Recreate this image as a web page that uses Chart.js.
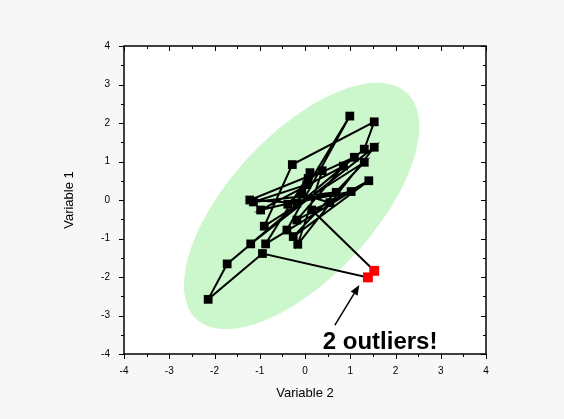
<!DOCTYPE html>
<html>
<head>
<meta charset="utf-8">
<script src="https://cdn.jsdelivr.net/npm/chart.js@4"></script>
<style>
  html, body { margin: 0; padding: 0; background: #f7f7f7; }
  #wrap { width: 564px; height: 419px; }
</style>
</head>
<body>
<div id="wrap"><canvas id="outlierChart" width="564" height="419"></canvas></div>
<script>
// series (in drawing order), the two red points are the outliers
const var2 = [-0.40, 0.99, -0.18, -1.22, 0.38, -0.16, 1.53, -1.20, 1.31, 1.53, -0.28, -0.90, 1.31, -0.26, 1.41, -0.18, 0.85, -0.98, 0.69, -1.14, 0.04, -0.38, 1.02, -0.87, 0.11, -0.07, 0.55, 0.15, 1.53, 1.39, -0.94, -2.14, -1.72, 1.09, 0.07];
const var1 = [-0.78, 2.18, -0.08, 0.00, 0.76, -1.15, 1.37, -1.14, 1.32, 2.03, 0.92, -0.68, 0.98, -0.95, 0.50, -0.52, 0.88, -0.26, 0.20, -0.05, 0.40, -0.11, 0.22, -1.14, 0.71, 0.15, -0.07, -0.26, -1.84, -2.01, -1.39, -2.58, -1.66, 1.11, 0.56];
const outlierIdx = [28, 29];

const tickMin = -4, tickMax = 4;

// confidence ellipse, data units
const ellCenter = [-0.075, -0.155];
const ellRx = 2.6, ellRy = 3.2, ellPhase = 50 * Math.PI / 180;

// annotation (data units)
const arrowFrom = [0.66, -3.25];
const arrowTo = [1.20, -2.21];
const noteText = '2 outliers!';
const notePos = [1.66, -3.69];

const FONT = "'Liberation Sans', Arial, sans-serif";

const points = var2.map((x, i) => ({ x: x, y: var1[i] }));
const isOut = i => outlierIdx.includes(i);

const decorPlugin = {
    id: 'decor',
    beforeDatasetsDraw(chart) {
        const ctx = chart.ctx, a = chart.chartArea;
        const xs = chart.scales.x, ys = chart.scales.y;
        ctx.save();
        ctx.fillStyle = '#ffffff';
        ctx.fillRect(a.left, a.top, a.right - a.left, a.bottom - a.top);
        ctx.beginPath();
        ctx.rect(a.left, a.top, a.right - a.left, a.bottom - a.top);
        ctx.clip();
        // ellipse
        ctx.beginPath();
        for (let k = 0; k <= 180; k++) {
            const t = k / 180 * Math.PI * 2;
            const px = xs.getPixelForValue(ellCenter[0] + ellRx * Math.cos(t));
            const py = ys.getPixelForValue(ellCenter[1] + ellRy * Math.cos(t - ellPhase));
            if (k === 0) ctx.moveTo(px, py); else ctx.lineTo(px, py);
        }
        ctx.closePath();
        ctx.fillStyle = 'rgb(204,247,204)';
        ctx.fill();
        ctx.restore();
    },
    afterDraw(chart) {
        const ctx = chart.ctx, a = chart.chartArea;
        const xs = chart.scales.x, ys = chart.scales.y;
        ctx.save();
        // frame
        ctx.strokeStyle = '#000';
        ctx.lineWidth = 1.5;
        ctx.strokeRect(a.left, a.top, a.right - a.left, a.bottom - a.top);
        // ticks: bottom/left outward, top/right inward
        ctx.lineWidth = 1;
        ctx.beginPath();
        for (let v = tickMin; v <= tickMax + 1e-9; v += 0.5) {
            const len = Number.isInteger(v) ? 5 : 3;
            const px = Math.round(xs.getPixelForValue(v)) + 0.5;
            ctx.moveTo(px, a.bottom); ctx.lineTo(px, a.bottom + len);
            ctx.moveTo(px, a.top); ctx.lineTo(px, a.top + len);
            const py = Math.round(ys.getPixelForValue(v)) + 0.5;
            ctx.moveTo(a.left, py); ctx.lineTo(a.left - len, py);
            ctx.moveTo(a.right, py); ctx.lineTo(a.right - len, py);
        }
        ctx.stroke();
        // arrow
        const x0 = xs.getPixelForValue(arrowFrom[0]), y0 = ys.getPixelForValue(arrowFrom[1]);
        const x1 = xs.getPixelForValue(arrowTo[0]), y1 = ys.getPixelForValue(arrowTo[1]);
        const ang = Math.atan2(y1 - y0, x1 - x0);
        const hl = 10, hw = 4;
        ctx.lineWidth = 1.5;
        ctx.beginPath();
        ctx.moveTo(x0, y0);
        ctx.lineTo(x1 - hl * Math.cos(ang), y1 - hl * Math.sin(ang));
        ctx.stroke();
        ctx.beginPath();
        ctx.moveTo(x1, y1);
        ctx.lineTo(x1 - hl * Math.cos(ang) + hw * Math.sin(ang), y1 - hl * Math.sin(ang) - hw * Math.cos(ang));
        ctx.lineTo(x1 - hl * Math.cos(ang) - hw * Math.sin(ang), y1 - hl * Math.sin(ang) + hw * Math.cos(ang));
        ctx.closePath();
        ctx.fillStyle = '#000';
        ctx.fill();
        // note
        ctx.font = 'bold 24px ' + FONT;
        ctx.textAlign = 'center';
        ctx.textBaseline = 'middle';
        ctx.fillText(noteText, xs.getPixelForValue(notePos[0]), ys.getPixelForValue(notePos[1]));
        ctx.restore();
    }
};

const ctx = document.getElementById('outlierChart').getContext('2d');
const chart = new Chart(ctx, {
    type: 'scatter',
    data: {
        datasets: [{
            data: points,
            showLine: true,
            borderColor: '#000',
            borderWidth: 2,
            pointStyle: 'rect',
            pointRadius: points.map((p, i) => isOut(i) ? 7 : 6.2),
            pointBackgroundColor: points.map((p, i) => isOut(i) ? '#ff0000' : '#000'),
            pointBorderColor: points.map((p, i) => isOut(i) ? '#ff0000' : '#000'),
            pointBorderWidth: 0,
            clip: false
        }]
    },
    options: {
        responsive: false,
        animation: false,
        layout: { padding: { left: 58, right: 78, top: 46, bottom: 14 } },
        plugins: {
            legend: { display: false },
            tooltip: { enabled: false }
        },
        scales: {
            x: {
                type: 'linear',
                min: tickMin,
                max: tickMax,
                afterFit: s => { s.height = 51; },
                grid: { display: false, drawTicks: false },
                border: { display: false },
                ticks: { stepSize: 1, padding: 11, color: '#000', font: { family: FONT, size: 10 } },
                title: { display: true, text: 'Variable 2', color: '#000', padding: { top: 4, bottom: 4 }, font: { family: FONT, size: 13 } }
            },
            y: {
                type: 'linear',
                min: tickMin,
                max: tickMax,
                afterFit: s => { s.width = 66; },
                grid: { display: false, drawTicks: false },
                border: { display: false },
                ticks: { stepSize: 1, padding: 14, color: '#000', font: { family: FONT, size: 10 } },
                title: { display: true, text: 'Variable 1', color: '#000', padding: { top: 4, bottom: 4 }, font: { family: FONT, size: 13 } }
            }
        }
    },
    plugins: [decorPlugin]
});
</script>
</body>
</html>
